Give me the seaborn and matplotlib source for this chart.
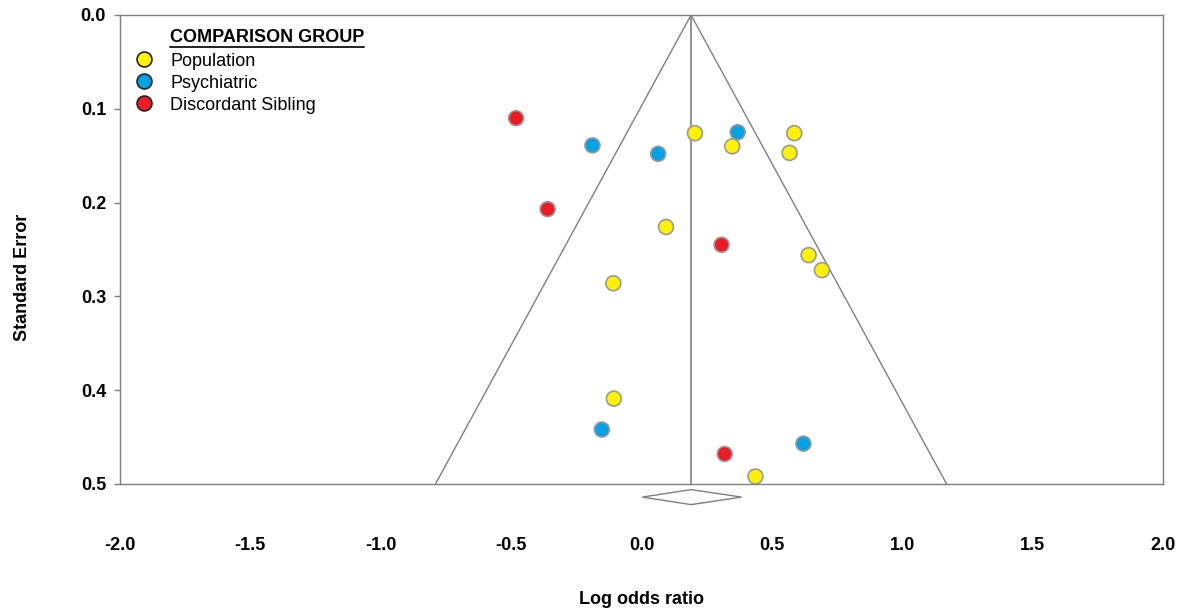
import numpy as np
import pandas as pd
import matplotlib
matplotlib.use('Agg')
import matplotlib.pyplot as plt
import seaborn as sns

# comparison groups and marker colours
groups = ['Population', 'Psychiatric', 'Discordant Sibling']
group_colors = ['#FFF200', '#00A2E8', '#ED1C24']

# study estimates
log_or = [-0.481, -0.188, 0.064, 0.205, 0.369, 0.348, 0.586, 0.568, -0.360, 0.094,
          0.307, 0.641, 0.692, -0.108, -0.106, -0.152, 0.319, 0.437, 0.621]
std_err = [0.110, 0.139, 0.148, 0.126, 0.125, 0.140, 0.126, 0.147, 0.207, 0.226,
           0.245, 0.256, 0.272, 0.286, 0.409, 0.442, 0.468, 0.492, 0.457]
group = ['Discordant Sibling', 'Psychiatric', 'Psychiatric', 'Population', 'Psychiatric',
         'Population', 'Population', 'Population', 'Discordant Sibling', 'Population',
         'Discordant Sibling', 'Population', 'Population', 'Population', 'Population',
         'Psychiatric', 'Discordant Sibling', 'Population', 'Psychiatric']

# pooled estimate and its 95% CI (diamond)
pooled = 0.19
pooled_lo = 0.003
pooled_hi = 0.384

x_ticks = [-2.0, -1.5, -1.0, -0.5, 0.0, 0.5, 1.0, 1.5, 2.0]
y_ticks = [0.0, 0.1, 0.2, 0.3, 0.4, 0.5]

sns.set_style('white')
plt.rcParams['font.family'] = ['Liberation Sans', 'DejaVu Sans']
plt.rcParams['text.color'] = 'black'
plt.rcParams['axes.labelcolor'] = 'black'
plt.rcParams['xtick.labelcolor'] = 'black'
plt.rcParams['ytick.labelcolor'] = 'black'

df = pd.DataFrame({'log_or': log_or, 'se': std_err, 'group': group})

fig = plt.figure(figsize=(11.83, 6.12), dpi=100)
ax = fig.add_axes([0.1014, 0.2092, 0.8817, 0.7663])

gray = '#7f7f7f'

# funnel (pseudo 95% limits) and pooled line
se_max = 0.5
ax.plot([pooled - 1.96 * se_max, pooled, pooled + 1.96 * se_max], [se_max, 0, se_max],
        color=gray, lw=1, zorder=1)
ax.axvline(pooled, color=gray, lw=1.2, zorder=1)

sns.scatterplot(data=df, x='log_or', y='se', hue='group', hue_order=groups,
                palette=group_colors, s=115, edgecolor='#999999', linewidth=1.2,
                ax=ax, zorder=3)

# diamond for pooled estimate, below the axis
y0, h = 0.514, 0.008
ax.fill([pooled_lo, pooled, pooled_hi, pooled], [y0, y0 - h, y0, y0 + h],
        facecolor='white', edgecolor=gray, lw=1, clip_on=False, zorder=2)

ax.set_xlim(-2, 2)
ax.set_ylim(0.5, 0)
ax.set_xticks(x_ticks)
ax.set_yticks(y_ticks)
ax.set_xticklabels([f'{v:.1f}' for v in x_ticks], fontweight='bold', fontsize=13)
ax.set_yticklabels([f'{v:.1f}' for v in y_ticks], fontweight='bold', fontsize=13)
ax.tick_params(axis='x', direction='in', length=4, color=gray, width=1, pad=38)
ax.tick_params(axis='y', direction='out', length=4, color=gray, width=1, pad=6, left=True)
for sp in ax.spines.values():
    sp.set_color(gray)
    sp.set_linewidth(1)

ax.set_xlabel('Log odds ratio', fontweight='bold', fontsize=13)
ax.set_ylabel('Standard Error', fontweight='bold', fontsize=13)
ax.xaxis.set_label_coords(0.5, -0.228)
ax.yaxis.set_label_coords(-0.085, 0.44)

# legend
leg = ax.legend(loc='upper left', bbox_to_anchor=(-0.001, 0.935), frameon=False,
                fontsize=13, handletextpad=0.45, labelspacing=0.28, borderaxespad=0)
for hnd in leg.legend_handles:
    hnd.set_markeredgecolor('#222222')
    hnd.set_markeredgewidth(1.2)
t = ax.text(0.048, 0.952, 'COMPARISON GROUP', transform=ax.transAxes,
            fontweight='bold', fontsize=13, va='center', ha='left')
fig.canvas.draw()
bb = t.get_window_extent().transformed(ax.transAxes.inverted())
ax.plot([bb.x0, bb.x1], [bb.y0 - 0.003, bb.y0 - 0.003], transform=ax.transAxes,
        color='#222222', lw=1.4, clip_on=False)

fig.savefig('out.png', dpi=100)
